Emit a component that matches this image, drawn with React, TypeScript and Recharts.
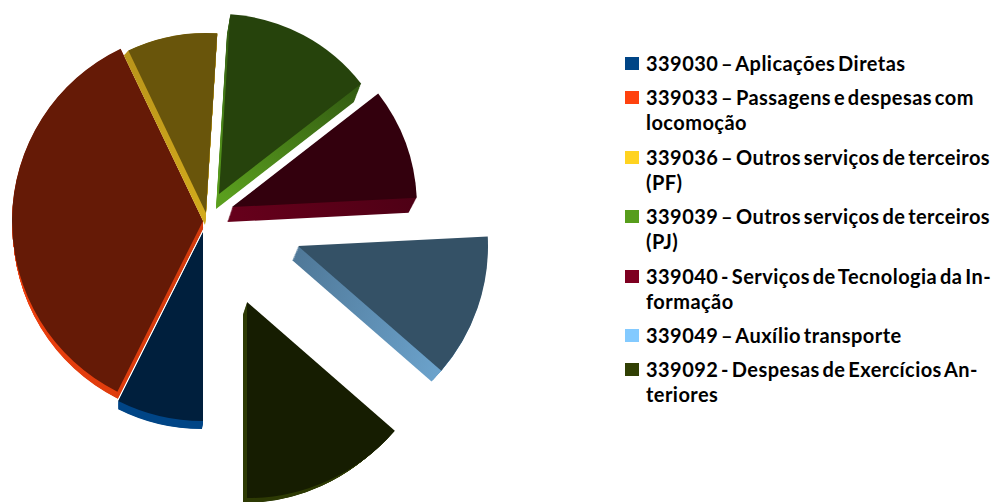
import { PieChart, Pie, Legend, Sector } from 'recharts';

const categories = [
  '339030 – Aplicações Diretas',
  '339033 – Passagens e despesas com\nlocomoção',
  '339036 – Outros serviços de terceiros\n(PF)',
  '339039 – Outros serviços de terceiros\n(PJ)',
  '339040 - Serviços de Tecnologia da In-\nformação',
  '339049 – Auxílio transporte',
  '339092 - Despesas de Exercícios An-\nteriores',
];
const shares = [7.4, 35.5, 8.1, 13.5, 9.7, 12.2, 13.6];

const colors = ['#004586', '#ff420e', '#ffd320', '#579d1c', '#7e0021', '#83caff', '#314004'];
const topColors = ['#001f3d', '#651a06', '#69550b', '#26430c', '#33000d', '#345166', '#161d01'];
// wall shading, from the tip of the slice out to the rim
const wallFrom = ['#004080', '#d23a0c', '#d2aa1c', '#5a9e1e', '#66001b', '#4f7898', '#2d3a04'];
const wallTo = ['#004586', '#ee3f0e', '#b8931a', '#2d5210', '#4d0015', '#6ea6d0', '#2d3a04'];

// tip of each exploded slice, its radius, and how the wall is pushed back
const sliceLayout = [
  { x: 203, y: 232, r: 189, dx: -1, dy: 10, dr: -2 },
  { x: 203, y: 221, r: 191, dx: 0, dy: 8, dr: -1 },
  { x: 206, y: 213, r: 180, dx: -1, dy: 12, dr: 8 },
  { x: 219, y: 194, r: 180, dx: -3, dy: 15, dr: -5 },
  { x: 232, y: 207, r: 185, dx: -5, dy: 15, dr: -3 },
  { x: 298, y: 246, r: 190, dx: -6, dy: 14, dr: -5 },
  { x: 247, y: 302, r: 196, dx: -4, dy: 12, dr: -7 },
];

const pieData = categories.map((name, i) => ({ name, value: shares[i], fill: colors[i] }));

const WALL_STEPS = 16;

function ExplodedSlice(props: any) {
  const { index, startAngle, endAngle } = props;
  const s = sliceLayout[index];
  const mid = (-(startAngle + endAngle) / 2) * (Math.PI / 180);
  const walls = [];
  for (let step = WALL_STEPS; step > 0; step--) {
    const t = step / WALL_STEPS;
    walls.push(
      <Sector
        key={step}
        cx={s.x + s.dx * t}
        cy={s.y + s.dy * t}
        innerRadius={0}
        outerRadius={s.r + s.dr * t}
        startAngle={startAngle}
        endAngle={endAngle}
        fill={`url(#wall-${index})`}
        stroke="none"
      />
    );
  }
  return (
    <g>
      <defs>
        <linearGradient
          id={`wall-${index}`}
          gradientUnits="userSpaceOnUse"
          x1={s.x}
          y1={s.y}
          x2={s.x + s.r * Math.cos(mid)}
          y2={s.y + s.r * Math.sin(mid)}
        >
          <stop offset="0%" stopColor={wallFrom[index]} />
          <stop offset="100%" stopColor={wallTo[index]} />
        </linearGradient>
      </defs>
      {walls}
      <Sector
        cx={s.x}
        cy={s.y}
        innerRadius={0}
        outerRadius={s.r}
        startAngle={startAngle}
        endAngle={endAngle}
        fill={topColors[index]}
        stroke="none"
      />
    </g>
  );
}

function LegendList({ payload }: any) {
  return (
    <ul style={{ listStyle: 'none', margin: 0, padding: 0 }}>
      {(payload || []).map((item: any, i: number) => (
        <li key={i} style={{ position: 'relative', paddingLeft: 21, marginBottom: 9.4 }}>
          <span
            style={{
              position: 'absolute',
              left: 0,
              top: 6,
              width: 14,
              height: 13,
              backgroundColor: item.color,
            }}
          />
          <span
            style={{
              display: 'block',
              whiteSpace: 'pre-line',
              fontFamily: 'Lato',
              fontWeight: 700,
              fontSize: 20,
              letterSpacing: 0.45,
              wordSpacing: -2.5,
              lineHeight: '25px',
              color: '#000',
            }}
          >
            {item.value}
          </span>
        </li>
      ))}
    </ul>
  );
}

export default function App() {
  return (
    <div style={{ position: 'absolute', left: 0, top: 0, width: 994, height: 502, overflow: 'hidden', background: '#fff' }}>
      <PieChart width={994} height={502} margin={{ top: 0, right: 0, bottom: 0, left: 0 }}>
        <Pie
          data={pieData}
          dataKey="value"
          nameKey="name"
          cx={205}
          cy={222}
          outerRadius={190}
          startAngle={-90}
          endAngle={-450}
          stroke="none"
          shape={ExplodedSlice}
          isAnimationActive={false}
        />
        <Legend
          layout="vertical"
          align="right"
          verticalAlign="top"
          content={<LegendList />}
          wrapperStyle={{ left: 625, top: 51, width: 369 }}
        />
      </PieChart>
    </div>
  );
}
